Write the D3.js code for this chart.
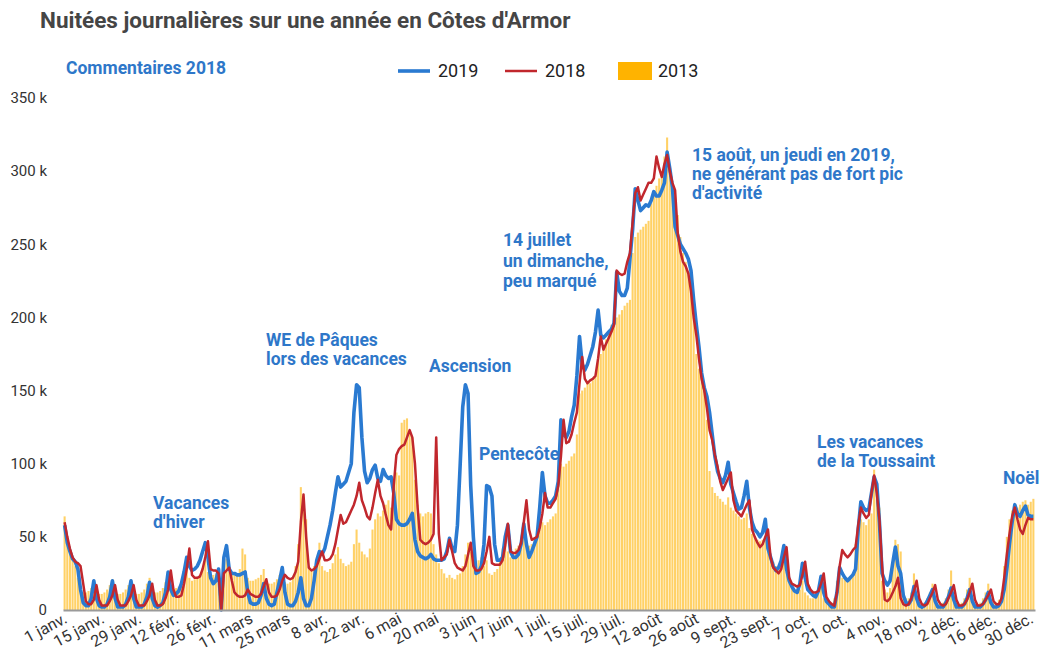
<!DOCTYPE html>
<html>
<head>
<meta charset="utf-8">
<script src="https://cdn.jsdelivr.net/npm/d3@7"></script>
<style>
  body { margin: 0; background: #fff; }
  svg { font-family: Roboto, "Noto Sans", sans-serif; }
</style>
</head>
<body>
<svg id="chart" width="1043" height="663"></svg>
<script>
// Daily nights (in thousands), one value per day of a leap-year calendar (29 févr. = 0)
const series2019 = [
  // janv.
  58,46,40,35,33,28,14, 5,3,3,8,20,8,3, 2,2,4,9,20,8,2, 2,2,4,9,20,8,2, 2,2,4,
  // févr.
  9,19,8,3,2,3,5, 12,26,14,10,11,13,18, 26,36,30,27,28,30,34, 40,46,36,22,18,20,28, 0,
  // mars
  36,44,28,25,25,24,24, 25,26,12,5,4,4,5, 10,18,8,4,3,4,12, 20,29,12,4,3,3,6, 12,22,8,
  // avr.
  3,3,8,20,34,40,38, 42,50,58,68,80,91,84, 86,88,94,100,135,154,152, 118,95,87,90,96,99,90, 88,96,
  // mai
  92,90,91,80,62,59,58, 58,59,62,66,48,40,37, 36,35,36,38,35,34,34, 34,35,40,49,42,40,58, 98,139,154,
  // juin
  148,85,50,25,26,30,45, 85,84,78,45,34,34,36, 50,58,40,36,36,38,45, 59,45,36,40,45,50,70, 94,78,
  // juil.
  73,73,75,78,88,130,120, 118,122,132,140,160,187,168, 164,168,174,180,190,205,188, 186,188,190,192,196,231,218, 215,215,220,
  // août
  240,260,288,280,273,275,277, 276,280,286,283,283,287,292, 313,302,289,262,256,250,247, 244,240,232,212,195,180,162, 152,146,135,
  // sept.
  120,105,95,90,87,92,101, 86,80,74,69,70,78,88, 70,60,55,53,50,53,62, 42,36,30,27,29,34,44, 28,20,
  // oct.
  16,13,12,18,32,22,14, 12,10,9,13,23,12,6, 4,2,2,12,29,25,22, 20,22,24,28,55,74,70, 68,69,80,
  // nov.
  91,86,60,25,20,17,20, 32,43,30,25,10,5,4, 7,16,8,3,2,3,6, 10,14,6,2,2,2,5, 9,15,
  // déc.
  7,2,2,2,4,8,14, 6,2,2,2,4,7,12, 5,2,2,3,6,14,28, 45,60,72,66,64,68,71, 65,64,64
];

const series2018 = [
  // janv.
  60,50,42,36,33,32,30, 18,6,4,4,7,17,7, 3,3,3,6,10,17,7, 3,3,3,6,10,17,7, 3,3,3,
  // févr.
  6,10,18,7,3,3,4, 8,14,27,14,9,9,10, 18,28,42,24,22,22,23, 28,36,47,28,27,27,25, 0,
  // mars
  25,27,29,20,12,10,9, 9,10,14,11,10,9,9, 11,16,21,12,9,9,10, 14,20,24,22,21,22,26, 33,60,79,
  // avr.
  50,29,27,28,30,35,40, 34,34,35,38,45,55,65, 59,60,64,68,72,78,87, 75,70,64,62,70,80,89, 78,73,
  // mai
  65,58,55,85,106,110,112, 113,118,123,118,100,70,48, 46,45,46,48,52,118,52, 34,36,38,48,40,32,29, 28,27,30,
  // juin
  38,46,30,27,27,28,32, 40,50,32,31,31,31,34, 44,59,40,39,39,41,46, 60,75,55,48,49,50,56, 66,80,
  // juil.
  70,70,73,76,85,105,130, 114,115,120,128,135,155,173, 158,155,157,158,160,172,187, 178,182,186,190,195,232,230, 229,230,238,
  // août
  244,265,285,289,280,284,288, 292,292,295,310,302,296,305, 311,300,292,287,258,245,238, 235,230,218,200,188,172,158, 150,138,123,
  // sept.
  116,106,98,88,82,86,90, 94,75,68,66,64,68,72, 75,55,50,46,43,45,50, 55,36,29,27,25,28,36, 43,22,
  // oct.
  18,17,16,17,24,33,18, 14,12,12,13,18,25,9, 6,4,3,12,30,41,38, 36,38,41,43,58,70,66, 63,65,80,
  // nov.
  92,80,62,30,7,6,8, 12,16,22,8,4,3,4, 8,13,20,8,4,3,4, 8,12,17,7,4,3,4, 8,12,
  // déc.
  17,7,3,3,4,7,12, 18,7,3,3,4,7,10, 14,6,4,4,8,22,38, 52,64,70,62,55,52,58, 63,62,62
];

const series2013 = [
  // janv.
  64,45,41,36,30,22,14, 12,12,13,15,20,13,11, 11,12,14,17,21,12,11, 11,12,14,17,21,12,11, 11,12,14,
  // févr.
  18,22,13,12,12,13,15, 19,24,15,14,15,16,19, 24,30,22,20,21,22,24, 28,34,26,24,24,25,26, 0,
  // mars
  30,35,26,24,24,25,28, 42,38,22,20,20,21,22, 24,28,20,18,18,19,21, 24,27,19,18,19,22,30, 45,84,75,
  // avr.
  62,30,28,30,33,46,30, 27,26,28,32,38,43,35, 32,30,31,33,45,55,46, 40,38,36,42,55,62,66, 64,68,
  // mai
  72,75,70,89,94,92,128, 130,131,123,118,89,72,66, 64,66,67,66,45,38,32, 28,25,22,24,22,21,24, 25,30,38,
  // juin
  46,40,35,34,34,36,30, 34,25,24,26,28,34,42, 50,40,36,38,42,44,48, 55,46,44,45,48,52,55, 60,58,
  // juil.
  60,62,64,66,95,100,98, 100,102,105,107,120,148,150, 152,155,155,157,160,171,175, 180,185,190,195,198,200,202, 205,208,210,
  // août
  212,244,255,258,260,262,264, 266,278,285,290,295,300,310, 323,300,290,282,270,255,244, 238,230,225,200,175,165,160, 150,130,95,
  // sept.
  84,80,78,76,74,72,77, 70,68,66,64,62,63,66, 56,52,50,48,47,48,50, 40,36,33,30,28,30,35, 26,22,
  // oct.
  18,14,12,14,20,12,10, 8,8,9,12,16,8,6, 5,5,8,20,24,22,21, 22,23,25,45,58,62,60, 58,62,66,
  // nov.
  96,82,70,20,14,12,15, 30,48,45,40,10,8,8, 12,25,10,5,4,5,8, 12,18,7,4,4,5,8, 14,27,
  // déc.
  10,5,4,5,8,14,22, 8,4,4,5,8,12,18, 7,5,5,7,12,30,50, 62,68,72,70,72,74,75, 72,74,76
];

const tickLabels = ['1 janv.', '15 janv.', '29 janv.', '12 févr.', '26 févr.', '11 mars', '25 mars',
  '8 avr.', '22 avr.', '6 mai', '20 mai', '3 juin', '17 juin', '1 juil.', '15 juil.', '29 juil.',
  '12 août', '26 août', '9 sept.', '23 sept.', '7 oct.', '21 oct.', '4 nov.', '18 nov.', '2 déc.',
  '16 déc.', '30 déc.'];
const yTicks = [0, 50, 100, 150, 200, 250, 300, 350];

const legendItems = [
  { label: '2019', color: '#2a7ad1', type: 'line' },
  { label: '2018', color: '#c1272d', type: 'line' },
  { label: '2013', color: '#ffb300', type: 'rect' }
];

// Annotation texts, one entry per block of lines
const notes = [
  { x: 66, y: 74, lines: ['Commentaires 2018'] },
  { x: 153, y: 509, lines: ['Vacances', "d'hiver"] },
  { x: 266, y: 346, lines: ['WE de Pâques', 'lors des vacances'] },
  { x: 429, y: 372, lines: ['Ascension'] },
  { x: 479, y: 460, lines: ['Pentecôte'] },
  { x: 503, y: 246, lines: ['14 juillet', 'un dimanche,', 'peu marqué'], lh: 20.5 },
  { x: 692, y: 161, lines: ['15 août, un jeudi en 2019,', 'ne générant pas de fort pic', "d'activité"] },
  { x: 817, y: 448, lines: ['Les vacances', 'de la Toussaint'] },
  { x: 1003, y: 484, lines: ['Noël'] }
];

/**
 * Layout.
 */
const plot = { left: 63, right: 1035, top: 98, bottom: 610 };
const svg = d3.select('#chart');

const x = d3.scaleBand()
  .domain(d3.range(series2013.length))
  .range([plot.left, plot.right])
  .padding(0.22);
const y = d3.scaleLinear()
  .domain([0, 350])
  .range([plot.bottom, plot.top]);
const cx = i => x(i) + x.bandwidth() / 2;

/**
 * Title.
 */
svg.append('text')
  .attr('x', 40).attr('y', 28)
  .attr('font-size', 22.5).attr('font-weight', 700)
  .attr('fill', '#454545')
  .text("Nuitées journalières sur une année en Côtes d'Armor");

/**
 * Bars (2013).
 */
svg.append('g').attr('class', 'bars')
  .selectAll('rect').data(series2013).join('rect')
  .attr('x', (d, i) => x(i))
  .attr('width', x.bandwidth())
  .attr('y', d => y(d))
  .attr('height', d => y(0) - y(d))
  .attr('fill', '#ffb300')
  .attr('fill-opacity', 0.6);

/**
 * Lines (2019 under 2018).
 */
const line = d3.line().x((d, i) => cx(i)).y(d => y(d));

svg.append('path').datum(series2019)
  .attr('d', line)
  .attr('fill', 'none')
  .attr('stroke', '#2a7ad1')
  .attr('stroke-width', 3.6)
  .attr('stroke-linejoin', 'round');

svg.append('path').datum(series2018)
  .attr('d', line)
  .attr('fill', 'none')
  .attr('stroke', '#c1272d')
  .attr('stroke-width', 2.5)
  .attr('stroke-linejoin', 'round');

/**
 * Axes.
 */
const yAxis = svg.append('g')
  .attr('transform', 'translate(' + (plot.left - 16) + ',0)')
  .call(d3.axisLeft(y).tickValues(yTicks).tickSize(0).tickPadding(0)
    .tickFormat(d => d === 0 ? '0' : d + ' k'));
yAxis.select('.domain').remove();
yAxis.selectAll('text')
  .attr('font-family', 'Roboto, sans-serif')
  .attr('font-size', 15)
  .attr('fill', '#333');

const xTickValues = tickLabels.map((d, i) => i * 14);
const xAxis = svg.append('g')
  .attr('transform', 'translate(0,' + plot.bottom + ')')
  .call(d3.axisBottom(x).tickValues(xTickValues).tickSize(0)
    .tickFormat((d, i) => tickLabels[i]));
xAxis.select('.domain')
  .attr('stroke', '#9a9a9a')
  .attr('stroke-width', 2);
xAxis.selectAll('text')
  .attr('font-family', 'Roboto, sans-serif')
  .attr('font-size', 16)
  .attr('fill', '#333')
  .attr('text-anchor', 'end')
  .attr('y', 0).attr('dy', '0.35em')
  .attr('transform', 'translate(1,7) rotate(-28)');

/**
 * Legend.
 */
const legend = svg.append('g').attr('class', 'legend');
const legendX = [398, 505, 618];
legendItems.forEach((d, i) => {
  const g = legend.append('g').attr('transform', 'translate(' + legendX[i] + ',71)');
  if (d.type === 'line') {
    g.append('line').attr('x1', 0).attr('x2', 32)
      .attr('stroke', d.color).attr('stroke-width', d.label === '2019' ? 3.6 : 2.5);
  } else {
    g.append('rect').attr('x', 0).attr('y', -9).attr('width', 34).attr('height', 18)
      .attr('fill', d.color);
  }
  g.append('text').attr('x', 40).attr('dy', '0.35em')
    .attr('font-size', 18).attr('fill', '#222').text(d.label);
});

/**
 * Annotations.
 */
const noteG = svg.append('g').attr('class', 'notes');
notes.forEach(n => {
  const t = noteG.append('text')
    .attr('x', n.x).attr('y', n.y)
    .attr('font-size', 17.5).attr('font-weight', 700)
    .attr('fill', '#2e77c9');
  n.lines.forEach((s, k) => {
    t.append('tspan').attr('x', n.x).attr('y', n.y + k * (n.lh || 19)).text(s);
  });
});
</script>
</body>
</html>
